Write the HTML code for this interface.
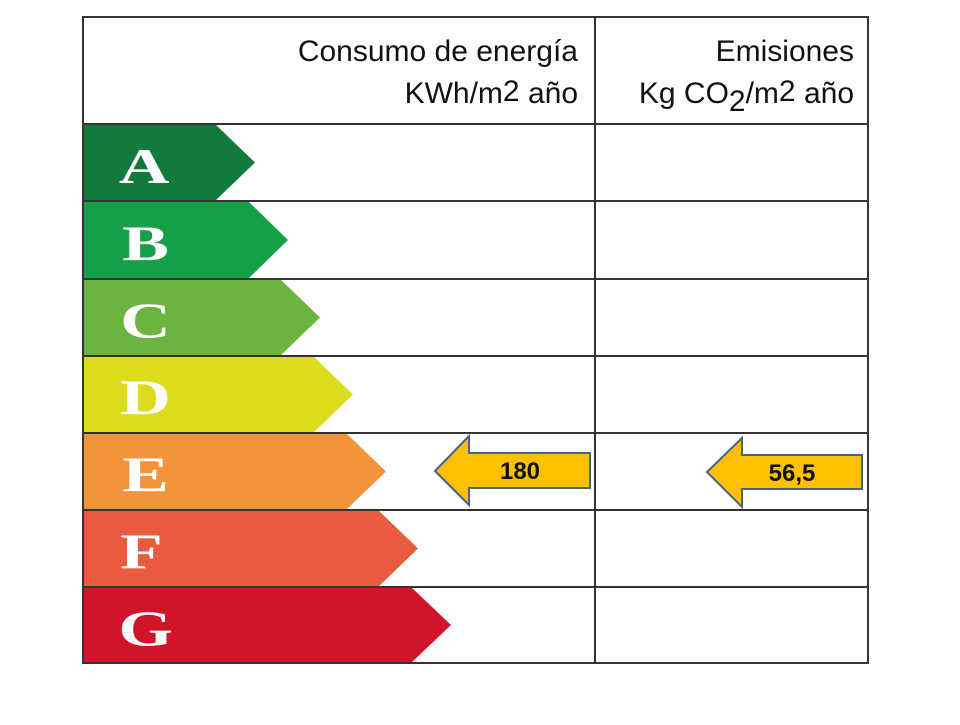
<!DOCTYPE html>
<html><head><meta charset="utf-8"><style>
body{margin:0;background:#fff;width:960px;height:720px;overflow:hidden}
</style></head><body>
<svg width="960" height="720" xmlns="http://www.w3.org/2000/svg">
<rect x="0" y="0" width="960" height="720" fill="#fff"/>
<g stroke="none">
<polygon points="83,124 215,124 255,162.5 215,201 83,201" fill="#137a3e"/>
<polygon points="83,201 248,201 288,240 248,279 83,279" fill="#16a04a"/>
<polygon points="83,279 280,279 320,317.5 280,356 83,356" fill="#6db33f"/>
<polygon points="83,356 313,356 353,394.5 313,433 83,433" fill="#dbdc1c"/>
<polygon points="83,433 346,433 386,471.5 346,510 83,510" fill="#f2953a"/>
<polygon points="83,510 378,510 418,548.5 378,587 83,587" fill="#e85b3e"/>
<polygon points="83,587 411,587 451,625 411,663 83,663" fill="#d0152b"/>
</g>
<g font-family="Liberation Serif, serif" font-weight="bold" font-size="50" fill="#fff" text-anchor="middle" transform="scale(1.4,1)">
<text x="103" y="183">A</text>
<text x="104" y="260">B</text>
<text x="104" y="337">C</text>
<text x="104" y="414">D</text>
<text x="104" y="491">E</text>
<text x="101" y="568">F</text>
<text x="104" y="645">G</text>
</g>
<g stroke="#333" stroke-width="2" fill="none">
<rect x="83" y="17" width="785" height="646"/>
<line x1="595" y1="17" x2="595" y2="663"/>
<line x1="83" y1="124" x2="868" y2="124"/>
<line x1="83" y1="201" x2="868" y2="201"/>
<line x1="83" y1="279" x2="868" y2="279"/>
<line x1="83" y1="356" x2="868" y2="356"/>
<line x1="83" y1="433" x2="868" y2="433"/>
<line x1="83" y1="510" x2="868" y2="510"/>
<line x1="83" y1="587" x2="868" y2="587"/>
</g>
<g font-family="Liberation Sans, sans-serif" font-size="30" fill="#111" text-anchor="end">
<text x="578" y="61">Consumo de energía</text>
<text x="578" y="103">KWh/m<tspan dy="-2">2</tspan><tspan dy="2"> año</tspan></text>
<text x="854" y="61">Emisiones</text>
<text x="854" y="103">Kg CO<tspan dy="8">2</tspan><tspan dy="-8">/m</tspan><tspan dy="-2">2</tspan><tspan dy="2"> año</tspan></text>
</g>
<g fill="#ffc000" stroke="#4a6283" stroke-width="2">
<polygon points="435,471 469,436 469,453 590,453 590,488 469,488 469,505"/>
<polygon points="707,472 742,438 742,455 862,455 862,489 742,489 742,507"/>
</g>
<g font-family="Liberation Sans, sans-serif" font-weight="bold" font-size="24" fill="#111" text-anchor="middle">
<text x="520" y="479">180</text>
<text x="792" y="481">56,5</text>
</g>
</svg>
</body></html>
